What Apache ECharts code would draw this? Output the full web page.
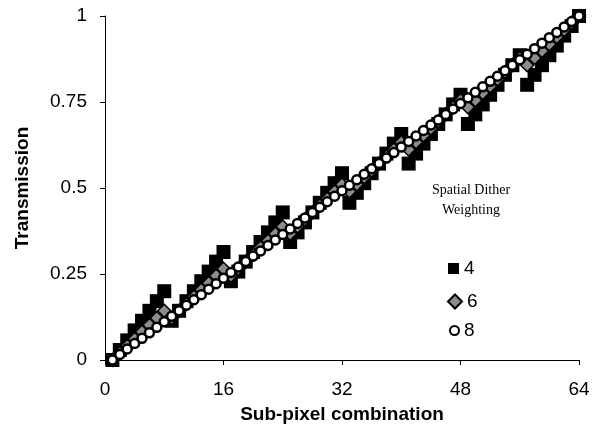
<!DOCTYPE html>
<html>
<head>
<meta charset="utf-8">
<script src="https://cdn.jsdelivr.net/npm/echarts@6/dist/echarts.min.js"></script>
<style>
  html, body { margin: 0; padding: 0; background: #fff; }
  #main { width: 604px; height: 429px; }
</style>
</head>
<body>
<div id="main"></div>
<script>
// sub-pixel combination 1..64
var combos = [];
for (var c = 1; c <= 64; c++) combos.push(c);

// weighting 4
var w4 = [0, .029, .057, .086, .114, .143, .171, .2,
  .114, .143, .171, .2, .229, .257, .286, .314,
  .229, .257, .286, .314, .343, .371, .4, .429,
  .343, .371, .4, .429, .457, .486, .514, .543,
  .457, .486, .514, .543, .571, .6, .629, .657,
  .571, .6, .629, .657, .686, .714, .743, .771,
  .686, .714, .743, .771, .8, .829, .857, .886,
  .8, .829, .857, .886, .914, .943, .971, 1];

// weighting 6
var w6 = [0, .02, .041, .061, .082, .102, .122, .143,
  .122, .143, .163, .184, .204, .224, .245, .265,
  .245, .265, .286, .306, .327, .347, .367, .388,
  .367, .388, .408, .429, .449, .469, .49, .51,
  .49, .51, .531, .551, .571, .592, .612, .633,
  .612, .633, .653, .673, .694, .714, .735, .755,
  .735, .755, .776, .796, .816, .837, .857, .878,
  .857, .878, .898, .918, .939, .959, .98, 1];

// weighting 8
var w8 = [0, .016, .032, .048, .063, .079, .095, .111,
  .127, .143, .159, .175, .19, .206, .222, .238,
  .254, .27, .286, .302, .317, .333, .349, .365,
  .381, .397, .413, .429, .444, .46, .476, .492,
  .508, .524, .54, .556, .571, .587, .603, .619,
  .635, .651, .667, .683, .698, .714, .73, .746,
  .762, .778, .794, .81, .825, .841, .857, .873,
  .889, .905, .921, .937, .952, .968, .984, 1];

function pairs(ys) {
  var out = [];
  for (var i = 0; i < ys.length; i++) out.push([combos[i], ys[i]]);
  return out;
}

var myChart = echarts.init(document.getElementById('main'));

var legendText = { fontSize: 19, color: '#000' };

var option = {
  animation: false,
  textStyle: { fontFamily: 'Liberation Sans, Arial' },
  grid: { left: 105, right: 25, top: 16, bottom: 65, containLabel: false },
  title: {
    text: 'Spatial Dither\nWeighting',
    left: 466, top: 175,
    textAlign: 'center',
    textStyle: { fontFamily: 'Liberation Serif', fontWeight: 'normal', fontSize: 14, color: '#000', lineHeight: 20 }
  },
  legend: [
    { left: 443, top: 254, itemWidth: 11, itemHeight: 11, textStyle: legendText,
      data: [{ name: '4', icon: 'rect' }] },
    { left: 442, top: 287, itemWidth: 14, itemHeight: 14, textStyle: legendText,
      data: [{ name: '6', icon: 'diamond' }] },
    { left: 444, top: 316, itemWidth: 9, itemHeight: 9, textStyle: legendText,
      data: [{ name: '8', icon: 'circle' }] }
  ],
  xAxis: {
    type: 'value',
    min: 0, max: 64, interval: 16,
    name: 'Sub-pixel combination',
    nameLocation: 'middle', nameGap: 45,
    nameTextStyle: { fontWeight: 'bold', fontSize: 19, color: '#000' },
    axisLine: { lineStyle: { color: '#000', width: 1 } },
    axisTick: { length: 5, lineStyle: { color: '#000' } },
    axisLabel: { fontSize: 19, color: '#000', margin: 20 },
    splitLine: { show: false }
  },
  yAxis: {
    type: 'value',
    min: 0, max: 1, interval: 0.25,
    name: 'Transmission',
    nameLocation: 'middle', nameGap: 73,
    nameTextStyle: { fontWeight: 'bold', fontSize: 19, color: '#000' },
    axisLine: { show: true, lineStyle: { color: '#000', width: 1 } },
    axisTick: { show: true, length: 5, lineStyle: { color: '#000' } },
    axisLabel: { fontSize: 19, color: '#000', margin: 18,
      formatter: function (v) { return String(v); } },
    splitLine: { show: false }
  },
  series: [
    {
      name: '4', type: 'scatter',
      symbol: 'rect', symbolSize: 14,
      itemStyle: { color: '#000', opacity: 1 },
      data: pairs(w4), z: 2
    },
    {
      name: '6', type: 'scatter',
      symbol: 'diamond', symbolSize: 13,
      itemStyle: { color: '#8c8c8c', borderColor: '#000', borderWidth: 1.5, opacity: 1 },
      data: pairs(w6), z: 3
    },
    {
      name: '8', type: 'line',
      symbol: 'circle', symbolSize: 9, showSymbol: true,
      lineStyle: { color: '#000', width: 2.5 },
      itemStyle: { color: '#fff', borderColor: '#000', borderWidth: 2.5, opacity: 1 },
      data: pairs(w8), z: 4
    }
  ]
};

myChart.setOption(option);
</script>
</body>
</html>
